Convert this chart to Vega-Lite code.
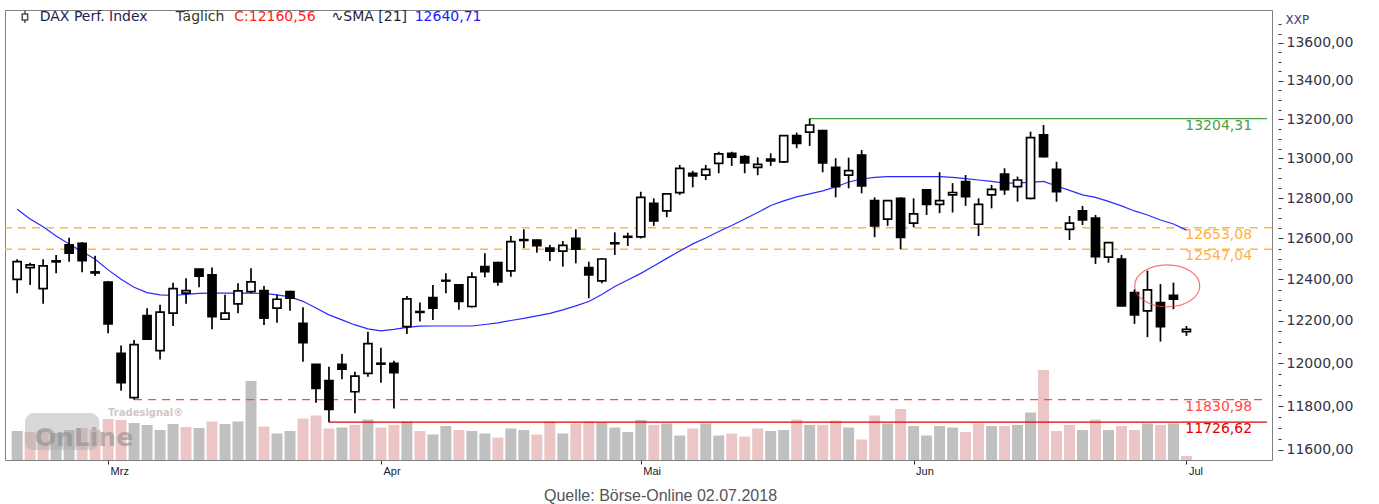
{
  "$schema": "https://vega.github.io/schema/vega-lite/v6.json",
  "width": 1267,
  "height": 450,
  "autosize": {"type": "none"},
  "padding": {"left": 5, "top": 10, "right": 107, "bottom": 44},
  "background": "white",
  "config": {"view": {"stroke": "#808080", "strokeWidth": 1}, "font": "DejaVu Sans"},
  "title": {"text": "Quelle: Börse-Online 02.07.2018", "orient": "bottom", "anchor": "middle", "font": "Liberation Sans", "fontSize": 16, "fontWeight": "normal", "color": "#555555", "offset": 12, "dx": 22},
  "datasets": {
    "candles": [
      {"i":0,"date":"2018-02-20","open":12400,"high":12498,"low":12333,"close":12486,"sma":12744,"volume":58,"vs_prev":"up"},
      {"i":1,"date":"2018-02-21","open":12457,"high":12481,"low":12373,"close":12470,"sma":12696,"volume":56,"vs_prev":"down"},
      {"i":2,"date":"2018-02-22","open":12355,"high":12498,"low":12282,"close":12465,"sma":12657,"volume":60,"vs_prev":"down"},
      {"i":3,"date":"2018-02-23","open":12490,"high":12519,"low":12429,"close":12485,"sma":12612,"volume":54,"vs_prev":"up"},
      {"i":4,"date":"2018-02-26","open":12568,"high":12603,"low":12486,"close":12527,"sma":12573,"volume":60,"vs_prev":"up"},
      {"i":5,"date":"2018-02-27","open":12576,"high":12582,"low":12434,"close":12491,"sma":12536,"volume":64,"vs_prev":"down"},
      {"i":6,"date":"2018-02-28","open":12436,"high":12515,"low":12416,"close":12431,"sma":12498,"volume":60,"vs_prev":"down"},
      {"i":7,"date":"2018-03-01","open":12387,"high":12392,"low":12142,"close":12186,"sma":12446,"volume":82,"vs_prev":"down"},
      {"i":8,"date":"2018-03-02","open":12047,"high":12083,"low":11872,"close":11909,"sma":12401,"volume":80,"vs_prev":"down"},
      {"i":9,"date":"2018-03-05","open":11840,"high":12110,"low":11830.98,"close":12088,"sma":12362,"volume":74,"vs_prev":"up"},
      {"i":10,"date":"2018-03-06","open":12225,"high":12261,"low":12110,"close":12113,"sma":12336,"volume":70,"vs_prev":"up"},
      {"i":11,"date":"2018-03-07","open":12059,"high":12277,"low":12018,"close":12242,"sma":12325,"volume":60,"vs_prev":"up"},
      {"i":12,"date":"2018-03-08","open":12237,"high":12384,"low":12176,"close":12355,"sma":12322,"volume":72,"vs_prev":"up"},
      {"i":13,"date":"2018-03-09","open":12333,"high":12405,"low":12282,"close":12345,"sma":12327,"volume":66,"vs_prev":"down"},
      {"i":14,"date":"2018-03-12","open":12450,"high":12452,"low":12362,"close":12416,"sma":12332,"volume":64,"vs_prev":"up"},
      {"i":15,"date":"2018-03-13","open":12422,"high":12457,"low":12161,"close":12221,"sma":12333,"volume":77,"vs_prev":"down"},
      {"i":16,"date":"2018-03-14","open":12208,"high":12325,"low":12205,"close":12237,"sma":12333,"volume":72,"vs_prev":"up"},
      {"i":17,"date":"2018-03-15","open":12282,"high":12381,"low":12237,"close":12344,"sma":12333,"volume":77,"vs_prev":"up"},
      {"i":18,"date":"2018-03-16","open":12341,"high":12454,"low":12333,"close":12388,"sma":12333,"volume":158,"vs_prev":"up"},
      {"i":19,"date":"2018-03-19","open":12345,"high":12368,"low":12181,"close":12213,"sma":12332,"volume":67,"vs_prev":"down"},
      {"i":20,"date":"2018-03-20","open":12261,"high":12325,"low":12192,"close":12304,"sma":12325,"volume":53,"vs_prev":"up"},
      {"i":21,"date":"2018-03-21","open":12341,"high":12345,"low":12249,"close":12309,"sma":12315,"volume":58,"vs_prev":"up"},
      {"i":22,"date":"2018-03-22","open":12189,"high":12266,"low":12007,"close":12097,"sma":12294,"volume":83,"vs_prev":"down"},
      {"i":23,"date":"2018-03-23","open":11995,"high":11997,"low":11816,"close":11883,"sma":12262,"volume":89,"vs_prev":"down"},
      {"i":24,"date":"2018-03-26","open":11919,"high":11984,"low":11726.62,"close":11786,"sma":12229,"volume":63,"vs_prev":"down"},
      {"i":25,"date":"2018-03-27","open":11995,"high":12044,"low":11925,"close":11972,"sma":12205,"volume":65,"vs_prev":"up"},
      {"i":26,"date":"2018-03-28","open":11867,"high":11960,"low":11768,"close":11940,"sma":12181,"volume":70,"vs_prev":"down"},
      {"i":27,"date":"2018-03-29","open":11953,"high":12149,"low":11937,"close":12092,"sma":12162,"volume":81,"vs_prev":"up"},
      {"i":28,"date":"2018-04-03","open":12000,"high":12073,"low":11909,"close":11996,"sma":12153,"volume":65,"vs_prev":"down"},
      {"i":29,"date":"2018-04-04","open":12000,"high":12012,"low":11790,"close":11956,"sma":12160,"volume":70,"vs_prev":"down"},
      {"i":30,"date":"2018-04-05","open":12173,"high":12320,"low":12138,"close":12306,"sma":12169,"volume":77,"vs_prev":"up"},
      {"i":31,"date":"2018-04-06","open":12245,"high":12288,"low":12197,"close":12241,"sma":12175,"volume":58,"vs_prev":"down"},
      {"i":32,"date":"2018-04-09","open":12312,"high":12373,"low":12205,"close":12261,"sma":12176,"volume":51,"vs_prev":"up"},
      {"i":33,"date":"2018-04-10","open":12395,"high":12429,"low":12333,"close":12392,"sma":12176,"volume":68,"vs_prev":"up"},
      {"i":34,"date":"2018-04-11","open":12373,"high":12376,"low":12253,"close":12293,"sma":12176,"volume":60,"vs_prev":"down"},
      {"i":35,"date":"2018-04-12","open":12269,"high":12434,"low":12264,"close":12411,"sma":12176,"volume":58,"vs_prev":"up"},
      {"i":36,"date":"2018-04-13","open":12462,"high":12527,"low":12410,"close":12437,"sma":12183,"volume":53,"vs_prev":"up"},
      {"i":37,"date":"2018-04-16","open":12481,"high":12486,"low":12369,"close":12388,"sma":12191,"volume":45,"vs_prev":"down"},
      {"i":38,"date":"2018-04-17","open":12441,"high":12612,"low":12413,"close":12584,"sma":12202,"volume":63,"vs_prev":"up"},
      {"i":39,"date":"2018-04-18","open":12590,"high":12645,"low":12552,"close":12594,"sma":12212,"volume":60,"vs_prev":"up"},
      {"i":40,"date":"2018-04-19","open":12592,"high":12594,"low":12530,"close":12564,"sma":12224,"volume":51,"vs_prev":"down"},
      {"i":41,"date":"2018-04-20","open":12552,"high":12568,"low":12489,"close":12538,"sma":12236,"volume":77,"vs_prev":"down"},
      {"i":42,"date":"2018-04-23","open":12538,"high":12587,"low":12462,"close":12566,"sma":12253,"volume":53,"vs_prev":"up"},
      {"i":43,"date":"2018-04-24","open":12600,"high":12645,"low":12478,"close":12547,"sma":12272,"volume":73,"vs_prev":"down"},
      {"i":44,"date":"2018-04-25","open":12457,"high":12486,"low":12309,"close":12421,"sma":12293,"volume":77,"vs_prev":"down"},
      {"i":45,"date":"2018-04-26","open":12393,"high":12503,"low":12381,"close":12499,"sma":12327,"volume":75,"vs_prev":"up"},
      {"i":46,"date":"2018-04-27","open":12574,"high":12630,"low":12519,"close":12578,"sma":12365,"volume":65,"vs_prev":"up"},
      {"i":47,"date":"2018-04-30","open":12606,"high":12628,"low":12563,"close":12610,"sma":12397,"volume":56,"vs_prev":"up"},
      {"i":48,"date":"2018-05-02","open":12608,"high":12832,"low":12600,"close":12804,"sma":12429,"volume":80,"vs_prev":"up"},
      {"i":49,"date":"2018-05-03","open":12774,"high":12799,"low":12662,"close":12686,"sma":12465,"volume":70,"vs_prev":"down"},
      {"i":50,"date":"2018-05-04","open":12736,"high":12824,"low":12705,"close":12821,"sma":12502,"volume":73,"vs_prev":"up"},
      {"i":51,"date":"2018-05-07","open":12827,"high":12967,"low":12816,"close":12950,"sma":12538,"volume":49,"vs_prev":"up"},
      {"i":52,"date":"2018-05-08","open":12925,"high":12937,"low":12854,"close":12911,"sma":12573,"volume":63,"vs_prev":"down"},
      {"i":53,"date":"2018-05-09","open":12916,"high":12967,"low":12891,"close":12945,"sma":12602,"volume":73,"vs_prev":"up"},
      {"i":54,"date":"2018-05-10","open":12975,"high":13034,"low":12925,"close":13023,"sma":12634,"volume":49,"vs_prev":"up"},
      {"i":55,"date":"2018-05-11","open":13026,"high":13034,"low":12962,"close":13006,"sma":12664,"volume":53,"vs_prev":"down"},
      {"i":56,"date":"2018-05-14","open":13009,"high":13017,"low":12925,"close":12978,"sma":12696,"volume":47,"vs_prev":"down"},
      {"i":57,"date":"2018-05-15","open":12955,"high":13006,"low":12915,"close":12970,"sma":12728,"volume":63,"vs_prev":"down"},
      {"i":58,"date":"2018-05-16","open":12988,"high":13026,"low":12962,"close":12997,"sma":12763,"volume":58,"vs_prev":"up"},
      {"i":59,"date":"2018-05-17","open":12983,"high":13118,"low":12978,"close":13116,"sma":12786,"volume":60,"vs_prev":"up"},
      {"i":60,"date":"2018-05-18","open":13116,"high":13132,"low":13052,"close":13077,"sma":12806,"volume":81,"vs_prev":"down"},
      {"i":61,"date":"2018-05-22","open":13134,"high":13204.31,"low":13064,"close":13171,"sma":12821,"volume":70,"vs_prev":"up"},
      {"i":62,"date":"2018-05-23","open":13142,"high":13146,"low":12930,"close":12977,"sma":12836,"volume":70,"vs_prev":"down"},
      {"i":63,"date":"2018-05-24","open":12955,"high":13001,"low":12804,"close":12858,"sma":12856,"volume":79,"vs_prev":"down"},
      {"i":64,"date":"2018-05-25","open":12916,"high":13004,"low":12849,"close":12938,"sma":12881,"volume":65,"vs_prev":"up"},
      {"i":65,"date":"2018-05-28","open":13017,"high":13043,"low":12824,"close":12861,"sma":12896,"volume":41,"vs_prev":"down"},
      {"i":66,"date":"2018-05-29","open":12787,"high":12804,"low":12606,"close":12662,"sma":12904,"volume":89,"vs_prev":"down"},
      {"i":67,"date":"2018-05-30","open":12695,"high":12791,"low":12662,"close":12787,"sma":12908,"volume":73,"vs_prev":"up"},
      {"i":68,"date":"2018-05-31","open":12799,"high":12804,"low":12547.04,"close":12605,"sma":12908,"volume":102,"vs_prev":"down"},
      {"i":69,"date":"2018-06-01","open":12675,"high":12799,"low":12655,"close":12721,"sma":12908,"volume":68,"vs_prev":"up"},
      {"i":70,"date":"2018-06-04","open":12841,"high":12844,"low":12716,"close":12769,"sma":12908,"volume":49,"vs_prev":"up"},
      {"i":71,"date":"2018-06-05","open":12769,"high":12930,"low":12725,"close":12787,"sma":12908,"volume":68,"vs_prev":"up"},
      {"i":72,"date":"2018-06-06","open":12816,"high":12875,"low":12728,"close":12828,"sma":12904,"volume":65,"vs_prev":"up"},
      {"i":73,"date":"2018-06-07","open":12883,"high":12916,"low":12761,"close":12807,"sma":12898,"volume":56,"vs_prev":"down"},
      {"i":74,"date":"2018-06-08","open":12670,"high":12799,"low":12612,"close":12769,"sma":12891,"volume":73,"vs_prev":"down"},
      {"i":75,"date":"2018-06-11","open":12816,"high":12866,"low":12749,"close":12844,"sma":12884,"volume":68,"vs_prev":"up"},
      {"i":76,"date":"2018-06-12","open":12921,"high":12950,"low":12816,"close":12842,"sma":12875,"volume":68,"vs_prev":"down"},
      {"i":77,"date":"2018-06-13","open":12858,"high":12908,"low":12782,"close":12891,"sma":12876,"volume":70,"vs_prev":"up"},
      {"i":78,"date":"2018-06-14","open":12799,"high":13137,"low":12794,"close":13106,"sma":12879,"volume":95,"vs_prev":"up"},
      {"i":79,"date":"2018-06-15","open":13120,"high":13171,"low":13005,"close":13009,"sma":12884,"volume":180,"vs_prev":"down"},
      {"i":80,"date":"2018-06-18","open":12945,"high":12983,"low":12782,"close":12832,"sma":12861,"volume":58,"vs_prev":"down"},
      {"i":81,"date":"2018-06-19","open":12645,"high":12711,"low":12592,"close":12675,"sma":12839,"volume":70,"vs_prev":"down"},
      {"i":82,"date":"2018-06-20","open":12737,"high":12761,"low":12666,"close":12691,"sma":12816,"volume":60,"vs_prev":"up"},
      {"i":83,"date":"2018-06-21","open":12700,"high":12716,"low":12475,"close":12511,"sma":12804,"volume":81,"vs_prev":"down"},
      {"i":84,"date":"2018-06-22","open":12508,"high":12581,"low":12481,"close":12579,"sma":12784,"volume":60,"vs_prev":"up"},
      {"i":85,"date":"2018-06-25","open":12498,"high":12519,"low":12270,"close":12272,"sma":12761,"volume":68,"vs_prev":"down"},
      {"i":86,"date":"2018-06-26","open":12336,"high":12352,"low":12186,"close":12229,"sma":12736,"volume":60,"vs_prev":"down"},
      {"i":87,"date":"2018-06-27","open":12248,"high":12442,"low":12123,"close":12349,"sma":12716,"volume":73,"vs_prev":"up"},
      {"i":88,"date":"2018-06-28","open":12288,"high":12377,"low":12102,"close":12173,"sma":12691,"volume":70,"vs_prev":"down"},
      {"i":89,"date":"2018-06-29","open":12323,"high":12384,"low":12256,"close":12304,"sma":12671,"volume":73,"vs_prev":"up"},
      {"i":90,"date":"2018-07-02","open":12149,"high":12176,"low":12129,"close":12160.56,"sma":12641,"volume":8,"vs_prev":"down"}
    ],
    "zones": [
      {"level": 12653.08, "label": "12653,08"},
      {"level": 12547.04, "label": "12547,04"}
    ],
    "levels": [
      {"level": 13204.31, "from": 61, "label": "13204,31", "kind": "high"},
      {"level": 11830.98, "from": 9, "label": "11830,98", "kind": "low"},
      {"level": 11726.62, "from": 24, "label": "11726,62", "kind": "low2"}
    ],
    "marker": [{"i": 88.52, "price": 12368}]
  },
  "data": {"name": "candles"},
  "resolve": {"scale": {"y": "independent", "color": "independent"}},
  "layer": [
    {
      "mark": {"type": "bar", "size": 11},
      "encoding": {
        "x": {"field": "i", "type": "quantitative", "scale": {"domain": [-0.55, 96.2], "nice": false, "zero": false},
          "axis": {"values": [7, 28, 48, 69, 90], "labelExpr": "datum.value == 7 ? 'Mrz' : datum.value == 28 ? 'Apr' : datum.value == 48 ? 'Mai' : datum.value == 69 ? 'Jun' : 'Jul'", "domain": false, "grid": false, "tickSize": 4, "tickColor": "#333333", "labelAlign": "left", "labelBaseline": "top", "labelPadding": 1, "labelOffset": 2, "labelFont": "Liberation Sans", "labelFontSize": 11, "labelColor": "#222222", "title": null}},
        "y": {"field": "volume", "type": "quantitative", "scale": {"domain": [0, 900], "nice": false}, "axis": null},
        "color": {"field": "vs_prev", "type": "nominal", "scale": {"domain": ["up", "down"], "range": ["#c0c0c0", "#ecc6c6"]}, "legend": null}
      }
    },
    {
      "layer": [
        {
          "data": {"values": [{}]},
          "mark": {"type": "rect", "cornerRadius": 9, "fill": "#a8a8a8", "opacity": 0.45},
          "encoding": {
            "x": {"datum": 0.6, "type": "quantitative"},
            "x2": {"datum": 6.32},
            "y": {"datum": 11769, "type": "quantitative", "scale": {"type": "log", "domain": [11554.7, 13776.5], "nice": false, "zero": false}},
            "y2": {"datum": 11600}
          }
        },
        {
          "data": {"values": [{}]},
          "mark": {"type": "text", "text": "OnLine", "font": "DejaVu Sans", "fontWeight": "bold", "fontSize": 25, "fill": "#8a8a8a", "opacity": 0.55, "align": "left", "baseline": "alphabetic"},
          "encoding": {
            "x": {"datum": 1.36, "type": "quantitative"},
            "y": {"datum": 11617, "type": "quantitative"}
          }
        },
        {
          "data": {"values": [{}]},
          "mark": {"type": "text", "text": "Tradesignal®", "font": "DejaVu Sans", "fontWeight": "bold", "fontSize": 10, "fill": "#a09090", "opacity": 0.5, "align": "left", "baseline": "middle"},
          "encoding": {
            "x": {"datum": 7.0, "type": "quantitative"},
            "y": {"datum": 11768, "type": "quantitative"}
          }
        },
        {
          "data": {"name": "zones"},
          "mark": {"type": "rule", "color": "#ffb845", "strokeWidth": 1.5, "strokeDash": [8, 6]},
          "encoding": {
            "y": {"field": "level", "type": "quantitative"}
          }
        },
        {
          "data": {"name": "zones"},
          "mark": {"type": "text", "align": "right", "baseline": "middle", "dy": 7, "fontSize": 14, "fill": "#ffb040"},
          "encoding": {
            "x": {"datum": 95.05, "type": "quantitative"},
            "y": {"field": "level", "type": "quantitative"},
            "text": {"field": "label"}
          }
        },
        {
          "data": {"name": "levels"},
          "mark": {"type": "rule", "strokeWidth": 1.3},
          "encoding": {
            "x": {"field": "from", "type": "quantitative"},
            "x2": {"datum": 96.2},
            "y": {"field": "level", "type": "quantitative"},
            "color": {"field": "kind", "type": "nominal", "scale": {"domain": ["high", "low", "low2"], "range": ["#4a9f4a", "#ff4a4a", "#e00000"]}, "legend": null},
            "strokeDash": {"field": "kind", "type": "nominal", "scale": {"domain": ["high", "low", "low2"], "range": [[1, 0], [8, 6], [1, 0]]}, "legend": null}
          }
        },
        {
          "data": {"name": "levels"},
          "mark": {"type": "text", "align": "right", "baseline": "middle", "dy": 7, "fontSize": 14},
          "encoding": {
            "x": {"datum": 95.05, "type": "quantitative"},
            "y": {"field": "level", "type": "quantitative"},
            "text": {"field": "label"},
            "color": {"field": "kind", "type": "nominal", "scale": {"domain": ["high", "low", "low2"], "range": ["#2f9a2f", "#ff2a2a", "#ff2a2a"]}, "legend": null}
          }
        },
        {
          "mark": {"type": "line", "color": "#2a2aff", "strokeWidth": 1.2},
          "encoding": {
            "x": {"field": "i", "type": "quantitative"},
            "y": {"field": "sma", "type": "quantitative"}
          }
        },
        {
          "mark": {"type": "rule", "color": "#000000", "strokeWidth": 1.7},
          "encoding": {
            "x": {"field": "i", "type": "quantitative"},
            "y": {"field": "low", "type": "quantitative", "scale": {"type": "log", "domain": [11554.7, 13776.5], "nice": false, "zero": false},
              "axis": {"orient": "right", "values": [11600, 11650, 11700, 11750, 11800, 11850, 11900, 11950, 12000, 12050, 12100, 12150, 12200, 12250, 12300, 12350, 12400, 12450, 12500, 12550, 12600, 12650, 12700, 12750, 12800, 12850, 12900, 12950, 13000, 13050, 13100, 13150, 13200, 13250, 13300, 13350, 13400, 13450, 13500, 13550, 13600, 13650, 13700],
                "labelExpr": "datum.value % 200 === 0 ? replace(format(datum.value, '.2f'), '.', ',') : ''",
                "labelOverlap": false, "domain": false, "grid": false, "offset": 6,
                "tickSize": {"condition": {"test": "datum.value % 200 === 0", "value": 5}, "value": 3},
                "tickColor": "#333333", "tickWidth": 1,
                "labelPadding": 3, "labelFont": "DejaVu Sans", "labelFontSize": 14, "labelColor": "#333344",
                "title": "XXP", "titleAngle": 0, "titleAlign": "left", "titleBaseline": "middle", "titleX": 7, "titleY": 9,
                "titleFont": "DejaVu Sans", "titleFontSize": 12, "titleFontWeight": "normal", "titleColor": "#4a3a6a"}},
            "y2": {"field": "high"}
          }
        },
        {
          "mark": {"type": "bar", "size": 8, "stroke": "#000000", "strokeWidth": 1.7},
          "encoding": {
            "x": {"field": "i", "type": "quantitative"},
            "y": {"field": "open", "type": "quantitative", "scale": {"type": "log", "domain": [11554.7, 13776.5], "nice": false, "zero": false}},
            "y2": {"field": "close"},
            "fill": {"condition": {"test": "datum.close > datum.open", "value": "#ffffff"}, "value": "#000000"}
          }
        },
        {
          "data": {"name": "marker"},
          "mark": {"type": "point", "filled": false, "stroke": "#ff3b3b", "strokeWidth": 1.2, "size": 4225,
            "shape": "M -1 0 C -1 -0.357 -0.552 -0.646 0 -0.646 C 0.552 -0.646 1 -0.357 1 0 C 1 0.357 0.552 0.646 0 0.646 C -0.552 0.646 -1 0.357 -1 0 Z"},
          "encoding": {
            "x": {"field": "i", "type": "quantitative"},
            "y": {"field": "price", "type": "quantitative"}
          }
        },
        {
          "data": {"values": [{}]},
          "mark": {"type": "point", "filled": false, "stroke": "#000000", "strokeWidth": 1.5, "size": 144,
            "shape": "M -0.45 -0.5 H 0.45 V 0.5 H -0.45 Z M 0 -1 V -0.5 M 0 0.5 V 1"},
          "encoding": {
            "x": {"datum": 0.6, "type": "quantitative"},
            "y": {"datum": 13739, "type": "quantitative"}
          }
        },
        {
          "data": {"values": [{}]},
          "mark": {"type": "text", "text": "DAX Perf. Index", "fontSize": 14, "fill": "#1e1e4e", "align": "left", "baseline": "middle"},
          "encoding": {"x": {"datum": 1.74, "type": "quantitative"}, "y": {"datum": 13739, "type": "quantitative"}}
        },
        {
          "data": {"values": [{}]},
          "mark": {"type": "text", "text": "Täglich", "fontSize": 14, "fill": "#3a3a1e", "align": "left", "baseline": "middle"},
          "encoding": {"x": {"datum": 12.2, "type": "quantitative"}, "y": {"datum": 13739, "type": "quantitative"}}
        },
        {
          "data": {"values": [{}]},
          "mark": {"type": "text", "text": "C:12160,56", "fontSize": 14, "fill": "#ff2020", "align": "left", "baseline": "middle"},
          "encoding": {"x": {"datum": 16.71, "type": "quantitative"}, "y": {"datum": 13739, "type": "quantitative"}}
        },
        {
          "data": {"values": [{}]},
          "mark": {"type": "text", "text": "∿SMA [21]", "fontSize": 14, "fill": "#1e1e3e", "align": "left", "baseline": "middle"},
          "encoding": {"x": {"datum": 24.2, "type": "quantitative"}, "y": {"datum": 13739, "type": "quantitative"}}
        },
        {
          "data": {"values": [{}]},
          "mark": {"type": "text", "text": "12640,71", "fontSize": 14, "fill": "#2020ff", "align": "left", "baseline": "middle"},
          "encoding": {"x": {"datum": 30.6, "type": "quantitative"}, "y": {"datum": 13739, "type": "quantitative"}}
        }
      ]
    }
  ]
}
